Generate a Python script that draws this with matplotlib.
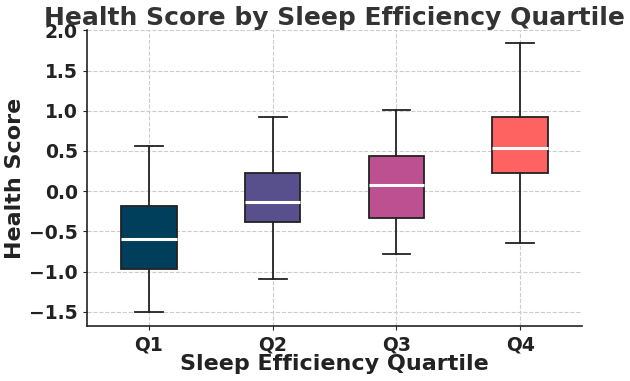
import matplotlib
matplotlib.use("Agg")
import matplotlib.pyplot as plt

quartiles = ["Q1", "Q2", "Q3", "Q4"]
whislo = [-1.51, -1.09, -0.78, -0.65]
q1 = [-0.97, -0.38, -0.33, 0.22]
med = [-0.60, -0.13, 0.08, 0.54]
q3 = [-0.18, 0.23, 0.44, 0.92]
whishi = [0.56, 0.92, 1.01, 1.85]
colors = ["#003f5c", "#58508d", "#bc5090", "#ff6361"]

stats = []
for i, name in enumerate(quartiles):
    stats.append({"label": name, "whislo": whislo[i], "q1": q1[i], "med": med[i],
                  "q3": q3[i], "whishi": whishi[i], "fliers": []})

fig = plt.figure(figsize=(6.3, 3.81), dpi=100)
ax = fig.add_axes([0.138, 0.144, 0.786, 0.776])

bp = ax.bxp(stats, positions=range(len(quartiles)), widths=0.45, patch_artist=True,
            showfliers=False,
            boxprops=dict(edgecolor="#222222", linewidth=1.3),
            whiskerprops=dict(color="#222222", linewidth=1.3),
            capprops=dict(color="#222222", linewidth=1.3),
            medianprops=dict(color="white", linewidth=2.2))
for patch, c in zip(bp["boxes"], colors):
    patch.set_facecolor(c)

ax.set_xlim(-0.5, 3.5)
ax.set_ylim(-1.68, 2.0)
ax.set_yticks([-1.5, -1.0, -0.5, 0.0, 0.5, 1.0, 1.5, 2.0])
ax.grid(True, linestyle="--", color="#cccccc", linewidth=0.8)
ax.set_axisbelow(True)
for s in ["top", "right"]:
    ax.spines[s].set_visible(False)
for s in ["left", "bottom"]:
    ax.spines[s].set_color("#222222")
    ax.spines[s].set_linewidth(1.2)
ax.tick_params(labelsize=13.5, length=3, color="#222222")
for lbl in ax.get_xticklabels() + ax.get_yticklabels():
    lbl.set_fontweight("bold")
    lbl.set_color("#222222")

ax.set_title("Health Score by Sleep Efficiency Quartile", fontsize=18, fontweight="bold",
             color="#333333", pad=3)
ax.set_xlabel("Sleep Efficiency Quartile", fontsize=16, fontweight="bold", color="#222222",
              labelpad=0)
ax.set_ylabel("Health Score", fontsize=16, fontweight="bold", color="#222222", labelpad=3)

fig.savefig("out.png", dpi=100)
